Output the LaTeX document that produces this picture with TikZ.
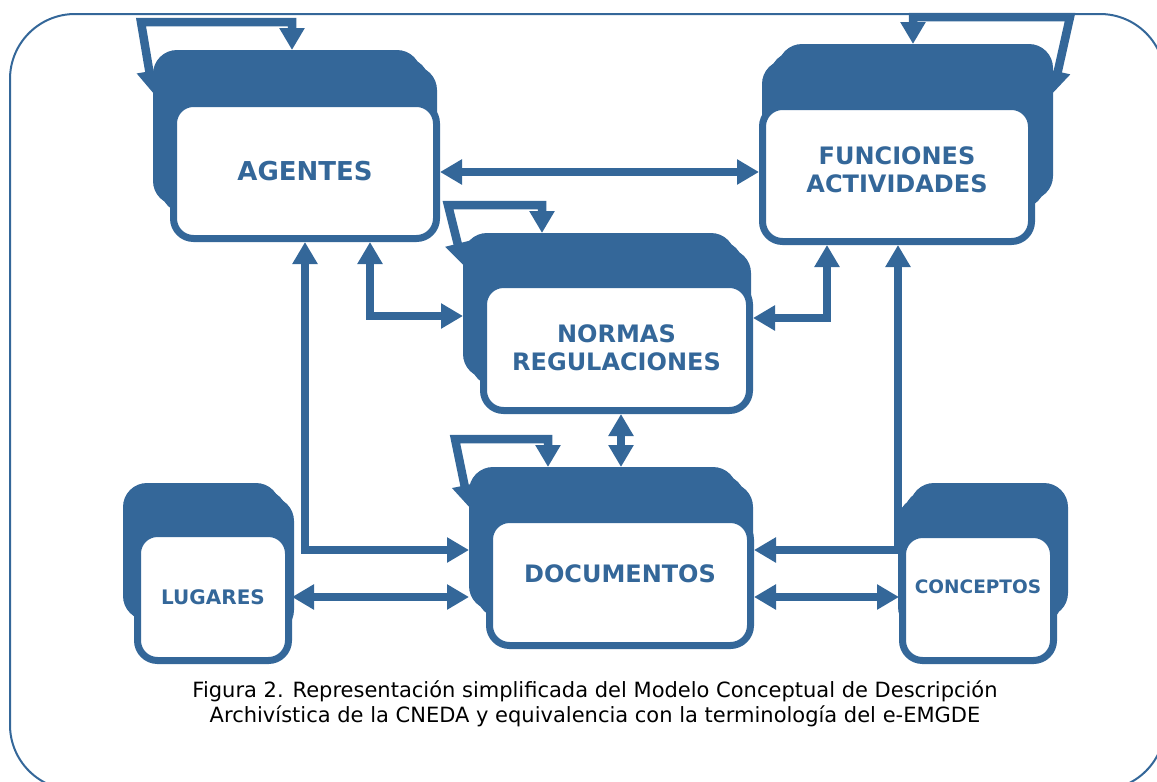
\documentclass[tikz,border=0pt]{standalone}
\usepackage{fontspec}
\setmainfont{DejaVu Sans}
\usetikzlibrary{arrows.meta}
\definecolor{cblue}{RGB}{52,103,153}
\begin{document}
\begin{tikzpicture}[x=1pt,y=-1pt,
  backcard/.style={fill=cblue, rounded corners=24pt, inner sep=0pt, outer sep=0pt},
  frontbox/.style={draw=cblue, fill=white, line width=7pt, rounded corners=20pt, inner sep=0pt, align=center, text=cblue},
  bigfont/.style={font={\fontsize{26}{30}\selectfont\bfseries}},
  midfont/.style={font={\fontsize{24}{28}\selectfont\bfseries}},
  smallfont/.style={font={\fontsize{20}{24}\selectfont\bfseries}},
  conn/.style={draw=cblue, line width=8.5pt, {Triangle[width=24pt,length=22pt]}-{Triangle[width=24pt,length=22pt]}}]
\useasboundingbox (0,0) rectangle (1157,782);
\clip (0,0) rectangle (1157,782);
% outer frame
\draw[cblue, line width=2pt, rounded corners=65pt] (10,14) rectangle (1165,790);

% AGENTES
\node[backcard, minimum width=268pt, minimum height=155pt] (agb2) at (303,143.5) {};
\node[backcard, minimum width=268pt, minimum height=155pt] (agb1) at (295,135.5) {};
\node[backcard, minimum width=268pt, minimum height=155pt] (agb0) at (287,127.5) {};
\node[frontbox, bigfont, minimum width=263pt, minimum height=135pt] (ag) at (305,171) {AGENTES};

% FUNCIONES ACTIVIDADES
\node[backcard, minimum width=275pt, minimum height=156pt] (fab2) at (899.5,138) {};
\node[backcard, minimum width=275pt, minimum height=156pt] (fab1) at (907.5,130) {};
\node[backcard, minimum width=275pt, minimum height=156pt] (fab0) at (915.5,122) {};
\node[frontbox, midfont, minimum width=269pt, minimum height=135pt] (fa) at (897,174) {\raisebox{4pt}[\height][\depth]{FUNCIONES}\\\raisebox{4pt}[\height][\depth]{ACTIVIDADES}};

% NORMAS REGULACIONES
\node[backcard, minimum width=272pt, minimum height=145pt] (nrb2) at (615,321.5) {};
\node[backcard, minimum width=272pt, minimum height=145pt] (nrb1) at (607,313.5) {};
\node[backcard, minimum width=272pt, minimum height=145pt] (nrb0) at (599,305.5) {};
\node[frontbox, midfont, minimum width=266pt, minimum height=126pt] (nr) at (616.5,347.5) {NORMAS\\REGULACIONES};

% DOCUMENTOS
\node[backcard, minimum width=268pt, minimum height=143pt] (dcb2) at (619,554.5) {};
\node[backcard, minimum width=268pt, minimum height=143pt] (dcb1) at (611,546.5) {};
\node[backcard, minimum width=268pt, minimum height=143pt] (dcb0) at (603,538.5) {};
\node[frontbox, midfont, minimum width=261pt, minimum height=126pt] (dc) at (620,582.5) {\raisebox{8.5pt}[\height][\depth]{DOCUMENTOS}};

% LUGARES
\node[backcard, minimum width=157pt, minimum height=137pt] (lgb2) at (215.5,565.5) {};
\node[backcard, minimum width=157pt, minimum height=137pt] (lgb1) at (208.5,558.5) {};
\node[backcard, minimum width=157pt, minimum height=137pt] (lgb0) at (201.5,551.5) {};
\node[frontbox, smallfont, minimum width=151pt, minimum height=127pt] (lg) at (213,597) {LUGARES};

% CONCEPTOS
\node[backcard, minimum width=158pt, minimum height=134pt] (cpb2) at (977,564) {};
\node[backcard, minimum width=158pt, minimum height=134pt] (cpb1) at (983,557) {};
\node[backcard, minimum width=158pt, minimum height=134pt] (cpb0) at (989,550) {};
\node[frontbox, font={\fontsize{18.5}{22}\selectfont\bfseries}, minimum width=151pt, minimum height=126pt] (cp) at (978,597.5) {\raisebox{11pt}[\height][\depth]{CONCEPTOS}};

% helper coordinates
\coordinate (agL1) at (292,22);
\coordinate (agL2) at (141,22);
\coordinate (agLy) at (0,93);
\coordinate (faL1) at (913,17);
\coordinate (faL2) at (1070,17);
\coordinate (faLy) at (0,93);
\coordinate (nrL1) at (542,205);
\coordinate (nrL2) at (448,205);
\coordinate (nrLy) at (0,265);
\coordinate (dcL1) at (548,439);
\coordinate (dcL2) at (455,439);
\coordinate (dcLy) at (0,507);
\coordinate (y172) at (0,172);
\coordinate (b6) at (370,316);
\coordinate (b7) at (305,550);
\coordinate (y597) at (0,597);
\coordinate (b9) at (827,318);
\coordinate (b10) at (898,550);
\coordinate (x621) at (621,0);

% connectors
\draw[conn] (agb0.north -| agL1) -- (agL1) -- (agL2) -- (agb0.west |- agLy);
\draw[conn] (fab0.north -| faL1) -- (faL1) -- (faL2) -- (fab0.east |- faLy);
\draw[conn] (nrb0.north -| nrL1) -- (nrL1) -- (nrL2) -- (nrb0.west |- nrLy);
\draw[conn] (dcb0.north -| dcL1) -- (dcL1) -- (dcL2) -- (dcb0.west |- dcLy);
\draw[conn] (ag.east |- y172) -- (fa.west |- y172);
\draw[conn] (ag.south -| b6) -- (b6) -- (nrb0.west |- b6);
\draw[conn] (ag.south -| b7) -- (b7) -- (dcb0.west |- b7);
\draw[conn] (lg.east |- y597) -- (dcb0.west |- y597);
\draw[conn] (fa.south -| b9) -- (b9) -- (nr.east |- b9);
\draw[conn] (fa.south -| b10) -- (b10) -- (dc.east |- b10);
\draw[conn] (dc.east |- y597) -- (cp.west |- y597);
\draw[conn] (nr.south -| x621) -- (dcb0.north -| x621);

% caption
\node[font={\fontsize{21}{25}\selectfont}, align=center, text=black] (cap) at (595,704) {Figura 2. Representación simplificada del Modelo Conceptual de Descripción\\Archivística de la CNEDA y equivalencia con la terminología del e-EMGDE};
\end{tikzpicture}
\end{document}
